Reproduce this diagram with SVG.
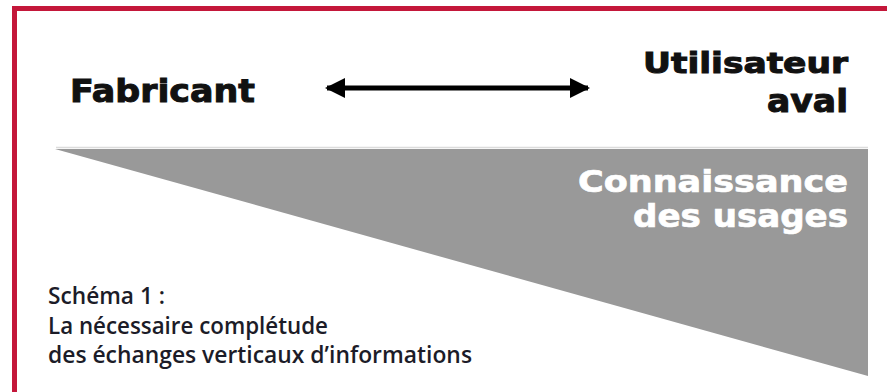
<svg xmlns="http://www.w3.org/2000/svg" width="887" height="392" viewBox="0 0 887 392">
<style>
.title{font-family:"DejaVu Sans","Verdana",sans-serif;font-weight:bold;fill:#111;stroke:#111;stroke-width:1px}
.wtitle{font-family:"DejaVu Sans","Verdana",sans-serif;font-weight:bold;fill:#ffffff;stroke:#ffffff;stroke-width:0.7px}
.cap{font-family:"Open Sans","Noto Sans",sans-serif;font-weight:600;font-size:23px;fill:#1c1c28}
</style>
<defs>
<marker id="ah" viewBox="0 0 10 10" refX="9" refY="5" markerWidth="4.4" markerHeight="4" orient="auto-start-reverse" markerUnits="strokeWidth">
<path d="M0,0 L10,5 L0,10 Z" fill="#000"/>
</marker>
</defs>
<rect x="0" y="0" width="887" height="392" fill="#ffffff"/>
<path d="M14.5,392 V8.5 H887" fill="none" stroke="#c4173a" stroke-width="5"/>
<g id="knowledge">
<line x1="56" y1="147.5" x2="868" y2="147.5" stroke="#dcdcdc" stroke-width="1.5"/>
<polygon points="55,149 868,149 868,376" fill="#999999"/>
<text class="wtitle" x="848" y="192" font-size="31" text-anchor="end" textLength="270" lengthAdjust="spacingAndGlyphs">Connaissance</text>
<text class="wtitle" x="848" y="227" font-size="32" text-anchor="end" textLength="215" lengthAdjust="spacingAndGlyphs">des usages</text>
</g>
<g id="fabricant">
<text class="title" x="70" y="102" font-size="32" textLength="185" lengthAdjust="spacingAndGlyphs">Fabricant</text>
</g>
<g id="utilisateur">
<text class="title" x="848" y="73" font-size="28" text-anchor="end" textLength="205" lengthAdjust="spacingAndGlyphs">Utilisateur</text>
<text class="title" x="848" y="112" font-size="32" text-anchor="end" textLength="81" lengthAdjust="spacingAndGlyphs">aval</text>
</g>
<g id="connectors">
<line x1="327" y1="88" x2="588" y2="88" stroke="#000" stroke-width="5" marker-start="url(#ah)" marker-end="url(#ah)"/>
</g>
<g id="caption">
<text class="cap" x="48" y="304" textLength="117" lengthAdjust="spacingAndGlyphs">Schéma 1 :</text>
<text class="cap" x="48" y="334" textLength="280" lengthAdjust="spacingAndGlyphs">La nécessaire complétude</text>
<text class="cap" x="48" y="363" textLength="424" lengthAdjust="spacingAndGlyphs">des échanges verticaux d’informations</text>
</g>
</svg>
